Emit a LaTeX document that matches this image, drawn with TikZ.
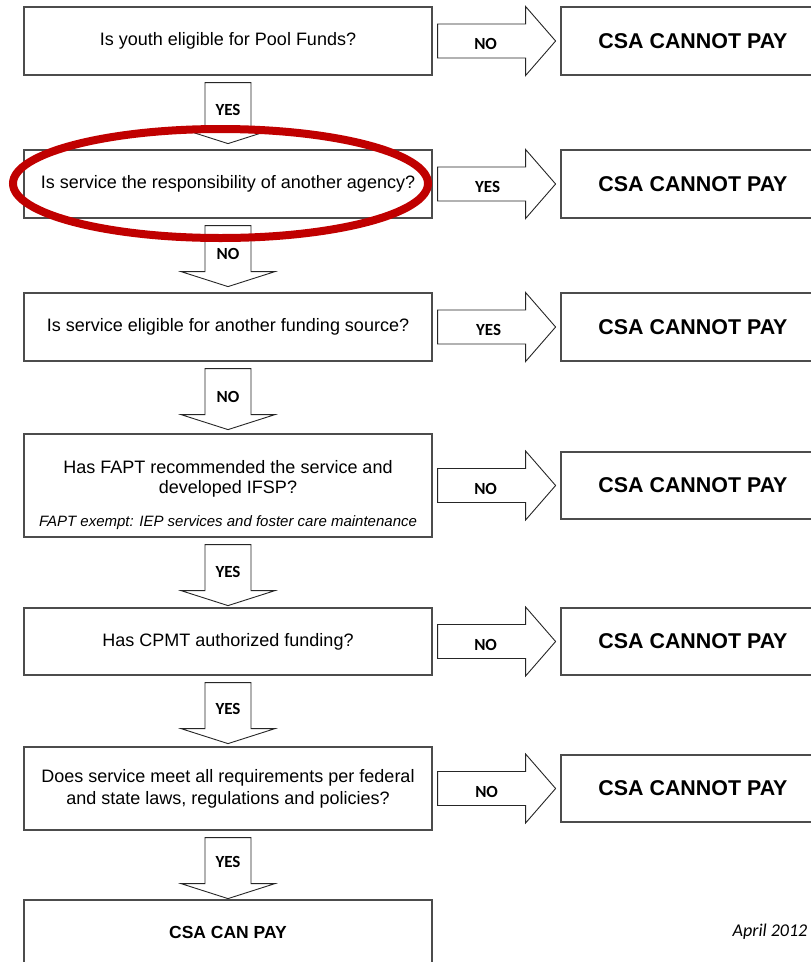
\documentclass[tikz,border=0pt]{standalone}
\usepackage{fontspec}
\setmainfont{Liberation Sans}
\newfontfamily\calibri{Carlito}
\usepackage{tikz}

\definecolor{oznaka}{RGB}{192,0,0}

\tikzset{
  vpr/.style={draw=black!70, line width=1.2pt, minimum width=408pt, minimum height=68pt, inner sep=0pt, align=center, font=\fontsize{18}{22}\selectfont},
  nepl/.style={draw=black!70, line width=1.2pt, minimum width=264pt, minimum height=68pt, inner sep=0pt, font=\bfseries\fontsize{21.4}{24}\selectfont},
  blok/.style={draw=black!85, line width=0.9pt, fill=white},
  odg/.style={font=\calibri\bfseries\fontsize{17}{20}\selectfont, inner sep=0pt}
}

\begin{document}
\begin{tikzpicture}[x=1pt,y=-1pt]
\useasboundingbox (0,0) rectangle (811,962);
\clip (0,0) rectangle (811,962);

%vprasanja
\node[vpr] (q1) at (228,41) {Is youth eligible for Pool Funds?};
\node[vpr] (q2) at (228,184) {Is service the responsibility of another agency?};
\node[vpr] (q3) at (228,327) {Is service eligible for another funding source?};
\node[vpr, minimum height=103pt] (q4) at (228,485.5) {};
\node[font=\fontsize{18}{20}\selectfont, align=center, inner sep=0pt] (q4t) at ([yshift=7pt]q4.center) {Has FAPT recommended the service and\\developed IFSP?};
\node[font=\itshape\fontsize{15}{18}\selectfont, anchor=base, inner sep=0pt] (q4n) at ([yshift=11pt]q4.south) {FAPT exempt: IEP services and foster care maintenance};
\node[vpr, minimum height=67pt] (q5) at (228,641.5) {Has CPMT authorized funding?};
\node[vpr, minimum height=83pt] (q6) at (228,788.5) {Does service meet all requirements per federal\\and state laws, regulations and policies?};
\node[vpr, minimum height=64pt, font=\bfseries\fontsize{17.5}{20}\selectfont] (q7) at (228,932) {CSA CAN PAY};

%desni okvirji
\node[nepl] (c1) at (693,41) {CSA CANNOT PAY};
\node[nepl] (c2) at (693,184) {CSA CANNOT PAY};
\node[nepl] (c3) at (693,327) {CSA CANNOT PAY};
\node[nepl, minimum height=67pt] (c4) at (693,485.5) {CSA CANNOT PAY};
\node[nepl, minimum height=67pt] (c5) at (693,641.5) {CSA CANNOT PAY};
\node[nepl, minimum height=67pt] (c6) at (693,788.5) {CSA CANNOT PAY};

%puscice desno
\draw[blok] ([xshift=5pt]q1.east) ++(0,-17) -- ++(88,0) -- ++(0,-17.5) -- ++(30,34.5) -- ++(-30,34.5) -- ++(0,-17.5) -- ++(-88,0) -- cycle ([xshift=53pt,yshift=-3pt]q1.east) node[odg] (r1) {NO};
\draw[blok] ([xshift=5pt]q2.east) ++(0,-17) -- ++(88,0) -- ++(0,-17.5) -- ++(30,34.5) -- ++(-30,34.5) -- ++(0,-17.5) -- ++(-88,0) -- cycle ([xshift=55pt,yshift=-3pt]q2.east) node[odg] (r2) {YES};
\draw[blok] ([xshift=5pt]q3.east) ++(0,-17) -- ++(88,0) -- ++(0,-17.5) -- ++(30,34.5) -- ++(-30,34.5) -- ++(0,-17.5) -- ++(-88,0) -- cycle ([xshift=56pt,yshift=-3pt]q3.east) node[odg] (r3) {YES};
\draw[blok] ([xshift=5pt]q4.east) ++(0,-17) -- ++(88,0) -- ++(0,-17.5) -- ++(30,34.5) -- ++(-30,34.5) -- ++(0,-17.5) -- ++(-88,0) -- cycle ([xshift=53pt,yshift=-3pt]q4.east) node[odg] (r4) {NO};
\draw[blok] ([xshift=5pt]q5.east) ++(0,-17) -- ++(88,0) -- ++(0,-17.5) -- ++(30,34.5) -- ++(-30,34.5) -- ++(0,-17.5) -- ++(-88,0) -- cycle ([xshift=53pt,yshift=-3pt]q5.east) node[odg] (r5) {NO};
\draw[blok] ([xshift=5pt]q6.east) ++(0,-17) -- ++(88,0) -- ++(0,-17.5) -- ++(30,34.5) -- ++(-30,34.5) -- ++(0,-17.5) -- ++(-88,0) -- cycle ([xshift=54pt,yshift=-3pt]q6.east) node[odg] (r6) {NO};

%puscice navzdol
\draw[blok] ([yshift=-7pt]q1.south) ++(-23,0) -- ++(0,46) -- ++(-24,0) -- ++(47,15) -- ++(47,-15) -- ++(-24,0) -- ++(0,-46) -- cycle ([yshift=-34pt]q1.south) node[odg] (d1) {YES};
\draw[blok] ([yshift=-7pt]q2.south) ++(-23,0) -- ++(0,46) -- ++(-24,0) -- ++(47,15) -- ++(47,-15) -- ++(-24,0) -- ++(0,-46) -- cycle ([yshift=-35pt]q2.south) node[odg] (d2) {NO};
\draw[blok] ([yshift=-7pt]q3.south) ++(-23,0) -- ++(0,46) -- ++(-24,0) -- ++(47,15) -- ++(47,-15) -- ++(-24,0) -- ++(0,-46) -- cycle ([yshift=-35pt]q3.south) node[odg] (d3) {NO};
\draw[blok] ([yshift=-7pt]q4.south) ++(-23,0) -- ++(0,46) -- ++(-24,0) -- ++(47,15) -- ++(47,-15) -- ++(-24,0) -- ++(0,-46) -- cycle ([yshift=-34pt]q4.south) node[odg] (d4) {YES};
\draw[blok] ([yshift=-7pt]q5.south) ++(-23,0) -- ++(0,46) -- ++(-24,0) -- ++(47,15) -- ++(47,-15) -- ++(-24,0) -- ++(0,-46) -- cycle ([yshift=-33pt]q5.south) node[odg] (d5) {YES};
\draw[blok] ([yshift=-7pt]q6.south) ++(-23,0) -- ++(0,46) -- ++(-24,0) -- ++(47,15) -- ++(47,-15) -- ++(-24,0) -- ++(0,-46) -- cycle ([yshift=-31pt]q6.south) node[odg] (d6) {YES};

%datum
\node[font=\calibri\itshape\fontsize{18}{20}\selectfont] (datum) at (770,932) {April 2012};

%rdeca elipsa
\draw[oznaka, line width=8pt] (220.5,183.5) ellipse [x radius=207.5pt, y radius=54.5pt];
\end{tikzpicture}
\end{document}
